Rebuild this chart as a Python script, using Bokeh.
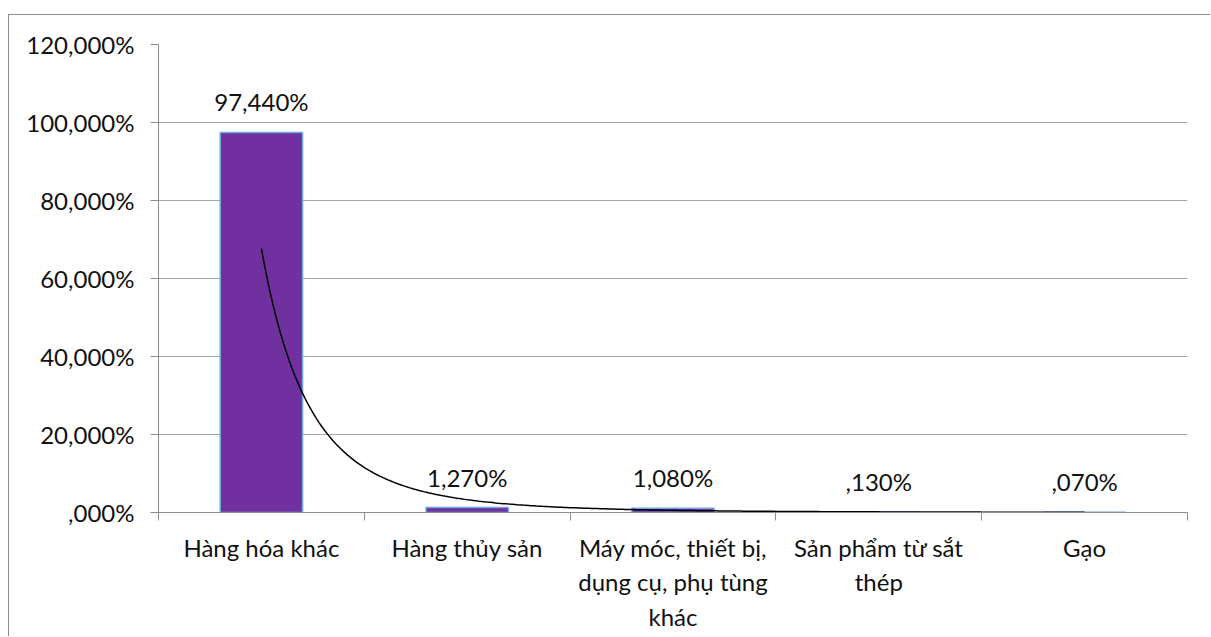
import numpy as np
from bokeh.plotting import figure
from bokeh.models import ColumnDataSource, FixedTicker, Range1d, LabelSet
from bokeh.core.properties import value
from bokeh.embed import file_html
from bokeh.resources import INLINE

categories = [
    "Hàng hóa khác",
    "Hàng thủy sản",
    "Máy móc, thiết bị,\ndụng cụ, phụ tùng\nkhác",
    "Sản phẩm từ sắt\nthép",
    "Gạo",
]
shares = [97.44, 1.27, 1.08, 0.13, 0.07]
y_ticks = [0, 20, 40, 60, 80, 100, 120]


def fmt(v):
    s = f"{v:.3f}".replace(".", ",")
    if s.startswith("0,"):
        s = s[1:]
    return s + "%"


xs = list(range(1, len(categories) + 1))
src = ColumnDataSource(dict(x=xs, top=shares, label=[fmt(v) for v in shares]))

# power trendline fitted to the data (as the spreadsheet trendline)
b, ln_a = np.polyfit(np.log(xs), np.log(shares), 1)
xt = np.linspace(xs[0], xs[-1], 300)
yt = np.exp(ln_a) * xt ** b

FONT = "Lato"
FSIZE = "24px"
GRID = "#a6a6a6"
AXIS = "#8c8c8c"

p = figure(
    width=1202, height=622,
    x_range=Range1d(0.5, len(xs) + 0.5), y_range=Range1d(0, 120),
    output_backend="svg", toolbar_location=None,
    min_border_left=149, min_border_right=24, min_border_top=29, min_border_bottom=125,
)
p.styles = {
    "margin-top": "14px",
    "margin-left": "8px",
    "border-top": "1px solid #8c8c8c",
    "border-left": "1px solid #8c8c8c",
}
p.outline_line_color = None
p.background_fill_color = "white"
p.border_fill_color = "white"

p.vbar(x="x", top="top", bottom=0, width=0.4, source=src,
       fill_color="#7030A0", line_color="#6FA8DC", line_width=1.5)
p.line(xt, yt, line_color="black", line_width=1.5)

labels = LabelSet(x="x", y="top", text="label", source=src,
                  text_align="center", text_baseline="bottom", y_offset=16,
                  text_font=value(FONT), text_font_size=value(FSIZE), text_color="#111111")
p.add_layout(labels)

p.xgrid.visible = False
p.ygrid.ticker = FixedTicker(ticks=y_ticks)
p.ygrid.grid_line_color = GRID
p.ygrid.grid_line_width = 1

ya = p.yaxis[0]
ya.ticker = FixedTicker(ticks=y_ticks)
ya.major_label_overrides = {t: fmt(t) for t in y_ticks}
ya.major_tick_in = 0
ya.major_tick_out = 8
ya.minor_tick_in = 0
ya.minor_tick_out = 0
ya.axis_line_color = AXIS
ya.major_tick_line_color = AXIS
ya.major_label_standoff = 16
ya.major_label_text_font = FONT
ya.major_label_text_font_size = FSIZE
ya.major_label_text_color = "#111111"

xa = p.xaxis[0]
xa.ticker = FixedTicker(ticks=xs, minor_ticks=[x - 0.5 for x in xs] + [xs[-1] + 0.5])
xa.major_label_overrides = {x: c for x, c in zip(xs, categories)}
xa.major_tick_in = 0
xa.major_tick_out = 0
xa.minor_tick_in = 0
xa.minor_tick_out = 8
xa.axis_line_color = AXIS
xa.minor_tick_line_color = AXIS
xa.major_label_standoff = 12
xa.major_label_text_font = FONT
xa.major_label_text_font_size = FSIZE
xa.major_label_text_color = "#111111"

open("out.html", "w").write(file_html(p, INLINE))
